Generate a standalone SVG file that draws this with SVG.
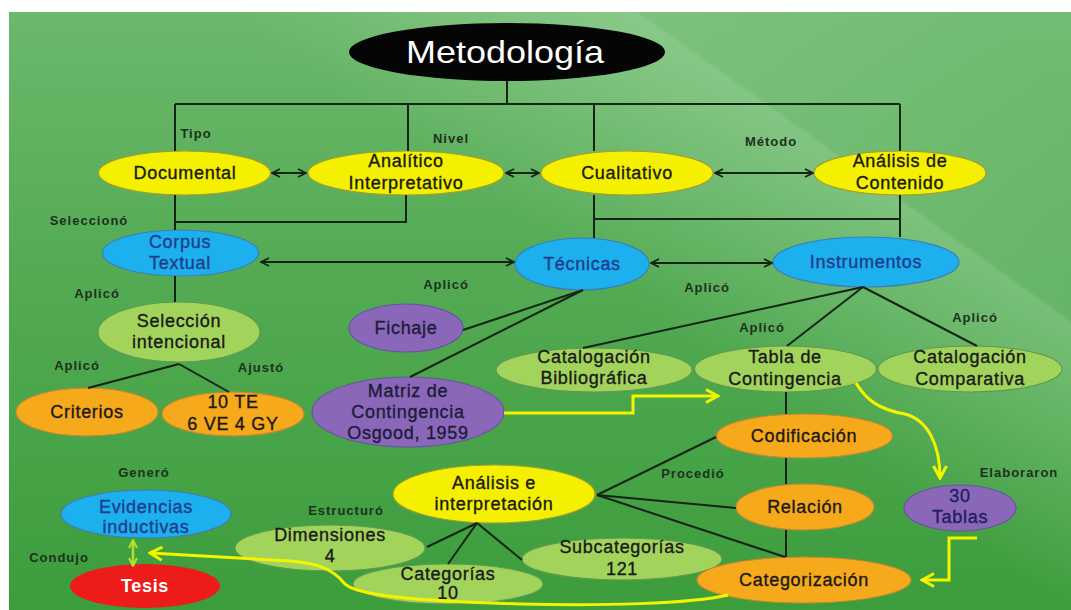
<svg xmlns="http://www.w3.org/2000/svg" width="1071" height="610" viewBox="0 0 1071 610">
<defs>
<linearGradient id="bg" x1="0" y1="0" x2="0" y2="1">
<stop offset="0" stop-color="#6cb86c"/>
<stop offset="0.45" stop-color="#53aa53"/>
<stop offset="1" stop-color="#3c9d3c"/>
</linearGradient>
<linearGradient id="sheen" gradientUnits="userSpaceOnUse" x1="700" y1="350" x2="950" y2="0">
<stop offset="0" stop-color="#bfe8bf" stop-opacity="0"/>
<stop offset="0.55" stop-color="#bfe8bf" stop-opacity="0.35"/>
<stop offset="0.56" stop-color="#bfe8bf" stop-opacity="0.2"/>
<stop offset="1" stop-color="#bfe8bf" stop-opacity="0.1"/>
</linearGradient>
<marker id="ah" viewBox="0 0 10 10" refX="9" refY="5" markerWidth="10" markerHeight="10" markerUnits="userSpaceOnUse" orient="auto-start-reverse">
<path d="M1,1 L9,5 L1,9" fill="none" stroke="#152515" stroke-width="1.8"/>
</marker>
<marker id="ya" viewBox="0 0 16 16" refX="14" refY="8" markerWidth="16" markerHeight="16" markerUnits="userSpaceOnUse" orient="auto">
<path d="M2,1.5 L14,8 L2,14.5" fill="none" stroke="#f4f400" stroke-width="3"/>
</marker>
<marker id="ga" viewBox="0 0 10 10" refX="9" refY="5" markerWidth="10" markerHeight="10" markerUnits="userSpaceOnUse" orient="auto-start-reverse">
<path d="M1,1 L9,5 L1,9" fill="none" stroke="#b0e030" stroke-width="2"/>
</marker>
</defs>
<style>
.t{font-family:"Liberation Sans",Arial,sans-serif;font-size:18px;fill:#1a1a1a;stroke:#1a1a1a;stroke-width:0.35px;text-anchor:middle;letter-spacing:0.7px}
.tb{fill:#1d3d8c;stroke:#1d3d8c}
.tp{fill:#1c1c3c;stroke:#1c1c3c}
.tn{fill:#202060;stroke:#202060}
.lb{font-family:"Liberation Sans",Arial,sans-serif;font-size:13px;font-weight:bold;fill:#1e301e;text-anchor:middle;letter-spacing:1px}
.y{fill:#f5f000;stroke:#a0a030;stroke-width:1.2}
.b{fill:#1db0ee;stroke:#3a7fb8;stroke-width:1.2}
.o{fill:#f7a91c;stroke:#c08a30;stroke-width:1.2}
.g{fill:#a2d45c;stroke:#5e9a50;stroke-width:1.2}
.p{fill:#8a67b8;stroke:#6754a0;stroke-width:1.2}
.c{fill:none;stroke:#152515;stroke-width:2}
.ys{fill:none;stroke:#f4f400;stroke-width:3;stroke-linejoin:miter}
</style>
<rect x="0" y="0" width="1071" height="610" fill="#ffffff"/>
<rect x="9" y="12" width="1062" height="598" fill="url(#bg)"/>
<rect x="9" y="12" width="1062" height="598" fill="url(#sheen)"/>

<g id="n-metodologia">
<ellipse cx="507" cy="52" rx="158" ry="29" fill="#050505"/>
<text x="505" y="63" font-family="'Liberation Sans',Arial,sans-serif" font-size="32" fill="#ffffff" text-anchor="middle" textLength="198" lengthAdjust="spacingAndGlyphs">Metodología</text>
</g>
<g id="n-documental"><ellipse class="y" cx="184.5" cy="173" rx="86" ry="22"/><text class="t" x="185" y="179">Documental</text></g>
<g id="n-analitico"><ellipse class="y" cx="406" cy="173" rx="98" ry="22"/><text class="t" x="406" y="167">Analítico</text><text class="t" x="406" y="189">Interpretativo</text></g>
<g id="n-cualitativo"><ellipse class="y" cx="627" cy="173" rx="86" ry="22"/><text class="t" x="627" y="179">Cualitativo</text></g>
<g id="n-analisis-contenido"><ellipse class="y" cx="900" cy="173" rx="86" ry="22"/><text class="t" x="900" y="167">Análisis de</text><text class="t" x="900" y="189">Contenido</text></g>
<g id="n-corpus"><ellipse class="b" cx="180.5" cy="253" rx="78" ry="23"/><text class="t tb" x="180" y="248">Corpus</text><text class="t tb" x="180" y="269">Textual</text></g>
<g id="n-tecnicas"><ellipse class="b" cx="582" cy="264" rx="67" ry="26"/><text class="t tb" x="582" y="270">Técnicas</text></g>
<g id="n-instrumentos"><ellipse class="b" cx="866" cy="262" rx="93" ry="25"/><text class="t tb" x="866" y="268">Instrumentos</text></g>
<g id="n-seleccion"><ellipse class="g" cx="179" cy="332" rx="81" ry="30"/><text class="t" x="179" y="327">Selección</text><text class="t" x="179" y="348">intencional</text></g>
<g id="n-criterios"><ellipse class="o" cx="87" cy="412" rx="71" ry="24"/><text class="t" x="87" y="418">Criterios</text></g>
<g id="n-10te"><ellipse class="o" cx="233" cy="414" rx="71" ry="22"/><text class="t" x="233" y="408">10 TE</text><text class="t" x="233" y="430">6 VE 4 GY</text></g>
<g id="n-fichaje"><ellipse class="p" cx="406" cy="328" rx="57" ry="24"/><text class="t tp" x="406" y="334">Fichaje</text></g>
<g id="n-matriz"><ellipse class="p" cx="408" cy="412" rx="96" ry="35"/><text class="t tp" x="408" y="397">Matriz de</text><text class="t tp" x="408" y="418">Contingencia</text><text class="t tp" x="408" y="439">Osgood, 1959</text></g>
<g id="n-catbib"><ellipse class="g" cx="594" cy="370" rx="98" ry="22"/><text class="t" x="594" y="363">Catalogación</text><text class="t" x="594" y="384">Bibliográfica</text></g>
<g id="n-tabla"><ellipse class="g" cx="785.5" cy="369" rx="91" ry="23"/><text class="t" x="785" y="363">Tabla de</text><text class="t" x="785" y="385">Contingencia</text></g>
<g id="n-catcomp"><ellipse class="g" cx="970" cy="369" rx="92" ry="23"/><text class="t" x="970" y="363">Catalogación</text><text class="t" x="970" y="385">Comparativa</text></g>
<g id="n-codificacion"><ellipse class="o" cx="804.5" cy="436" rx="88" ry="22"/><text class="t" x="804" y="442">Codificación</text></g>
<g id="n-relacion"><ellipse class="o" cx="805" cy="507" rx="69" ry="23"/><text class="t" x="805" y="513">Relación</text></g>
<g id="n-30tablas"><ellipse class="p" cx="960" cy="508" rx="56" ry="23"/><text class="t tn" x="960" y="502">30</text><text class="t tn" x="960" y="523">Tablas</text></g>
<g id="n-analisis-interp"><ellipse class="y" cx="494" cy="494" rx="101" ry="29"/><text class="t" x="494" y="489">Análisis e</text><text class="t" x="494" y="510">interpretación</text></g>
<g id="n-dimensiones"><ellipse class="g" cx="330" cy="548" rx="95" ry="23"/><text class="t" x="330" y="541">Dimensiones</text><text class="t" x="330" y="562">4</text></g>
<g id="n-categorias"><ellipse class="g" cx="448" cy="584" rx="95" ry="20"/><text class="t" x="448" y="580">Categorías</text><text class="t" x="448" y="599">10</text></g>
<g id="n-subcategorias"><ellipse class="g" cx="622" cy="559" rx="100" ry="21"/><text class="t" x="622" y="553">Subcategorías</text><text class="t" x="622" y="575">121</text></g>
<g id="n-categorizacion"><ellipse class="o" cx="804" cy="580" rx="107" ry="23"/><text class="t" x="804" y="586">Categorización</text></g>
<g id="n-evidencias"><ellipse class="b" cx="146" cy="514" rx="85" ry="24"/><text class="t tb" x="146" y="513">Evidencias</text><text class="t tb" x="146" y="533">inductivas</text></g>
<g id="n-tesis"><ellipse cx="145" cy="586" rx="75" ry="22" fill="#ee1b1b"/><text class="t" x="145" y="592" style="fill:#ffffff;stroke:none;font-weight:bold">Tesis</text></g>

<g id="connectors">
<path class="c" d="M507,81 V104"/>
<path class="c" d="M175,104 H900"/>
<path class="c" d="M175,104 V151"/>
<path class="c" d="M408,104 V151"/>
<path class="c" d="M594,104 V151"/>
<path class="c" d="M900,104 V151"/>
<path class="c" d="M272,173 H306" marker-start="url(#ah)" marker-end="url(#ah)"/>
<path class="c" d="M506,173 H539" marker-start="url(#ah)" marker-end="url(#ah)"/>
<path class="c" d="M715,173 H813" marker-start="url(#ah)" marker-end="url(#ah)"/>
<path class="c" d="M175,195 V230"/>
<path class="c" d="M175,222 H406 V195"/>
<path class="c" d="M594,195 V238"/>
<path class="c" d="M900,195 V237"/>
<path class="c" d="M594,219 H900"/>
<path class="c" d="M261,262 H514" marker-start="url(#ah)" marker-end="url(#ah)"/>
<path class="c" d="M651,263 H772" marker-start="url(#ah)" marker-end="url(#ah)"/>
<path class="c" d="M175,276 V302"/>
<path class="c" d="M179,364 L88,388"/>
<path class="c" d="M179,364 L229,392"/>
<path class="c" d="M583,290 L463,330"/>
<path class="c" d="M583,290 L410,377"/>
<path class="c" d="M863,287 L583,348"/>
<path class="c" d="M863,287 L787,346"/>
<path class="c" d="M863,287 L977,346"/>
<path class="c" d="M786,392 V414"/>
<path class="c" d="M786,458 V484"/>
<path class="c" d="M786,530 V557"/>
<path class="c" d="M597,495 L716,437"/>
<path class="c" d="M597,495 L736,508"/>
<path class="c" d="M597,495 L785,557"/>
<path class="c" d="M477,523 L427,547"/>
<path class="c" d="M477,523 L448,564"/>
<path class="c" d="M477,523 L522,560"/>
<path class="ys" d="M504,413 H633 V396 H718" marker-end="url(#ya)"/>
<path class="ys" d="M856,383 C866,400 880,410 905,414 C928,420 940,445 940,478" marker-end="url(#ya)"/>
<path class="ys" d="M977,538 H949 V580 H922" marker-end="url(#ya)"/>
<path class="ys" d="M728,595 C690,604 600,606 520,604 C420,601 355,596 344,583 C334,570 318,563 290,561 L150,553" marker-end="url(#ya)"/>
<path d="M133,540 V566" fill="none" stroke="#b0e030" stroke-width="2.5" marker-start="url(#ga)" marker-end="url(#ga)"/>
</g>

<g id="labels">
<text class="lb" x="196" y="138">Tipo</text>
<text class="lb" x="451" y="143">Nivel</text>
<text class="lb" x="771" y="146">Método</text>
<text class="lb" x="89" y="225">Seleccionó</text>
<text class="lb" x="97" y="298">Aplicó</text>
<text class="lb" x="446" y="289">Aplicó</text>
<text class="lb" x="707" y="292">Aplicó</text>
<text class="lb" x="77" y="370">Aplicó</text>
<text class="lb" x="261" y="372">Ajustó</text>
<text class="lb" x="762" y="332">Aplicó</text>
<text class="lb" x="975" y="322">Aplicó</text>
<text class="lb" x="693" y="478">Procedió</text>
<text class="lb" x="1019" y="477">Elaboraron</text>
<text class="lb" x="346" y="515">Estructuró</text>
<text class="lb" x="144" y="477">Generó</text>
<text class="lb" x="59" y="562">Condujo</text>
</g>
</svg>
